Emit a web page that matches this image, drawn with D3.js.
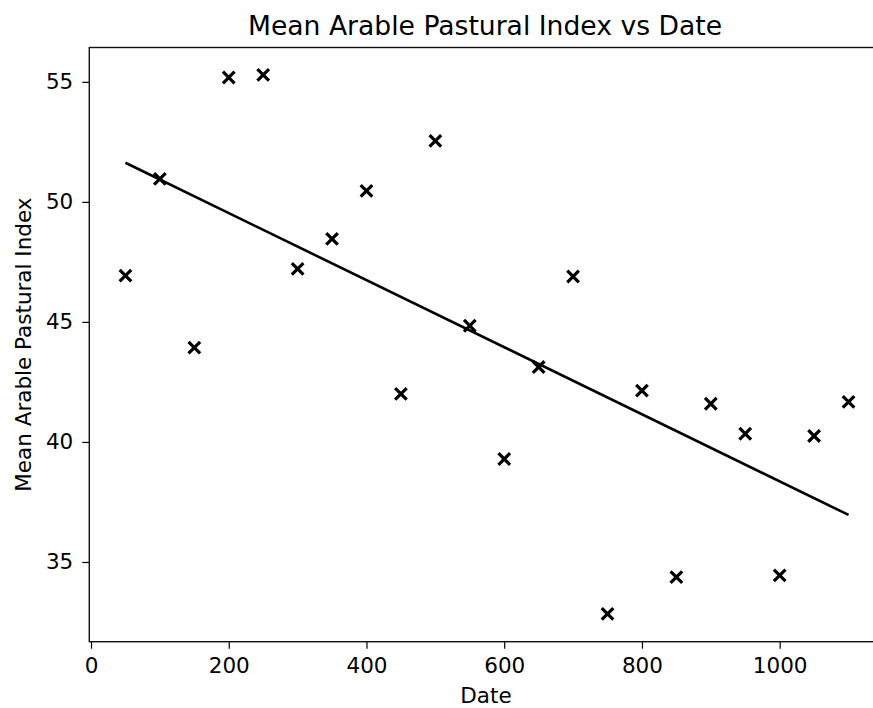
<!DOCTYPE html>
<html>
<head>
<meta charset="utf-8">
<script src="https://cdn.jsdelivr.net/npm/d3@7"></script>
<style>
  html, body { margin: 0; padding: 0; background: #fff; }
  svg { display: block; }
  text { font-family: "DejaVu Sans", sans-serif; fill: #000; }
</style>
</head>
<body>
<svg id="chart" width="873" height="708"></svg>
<script>
// ---- data ----
const dates = [50, 100, 150, 200, 250, 300, 350, 400, 450, 500, 550,
               600, 650, 700, 750, 800, 850, 900, 950, 1000, 1050, 1100];
const indexValues = [46.93, 50.96, 43.93, 55.18, 55.29, 47.21, 48.46, 50.46, 42.00, 52.54, 44.84,
                     39.29, 43.12, 46.89, 32.84, 42.14, 34.37, 41.59, 40.34, 34.44, 40.25, 41.67];
const fitDates = [50, 1100];
const fitValues = [51.63, 36.96];
const xTicks = [0, 200, 400, 600, 800, 1000];
const yTicks = [35, 40, 45, 50, 55];
const titleText = "Mean Arable Pastural Index vs Date";
const xLabel = "Date";
const yLabel = "Mean Arable Pastural Index";

// ---- layout ----
const svg = d3.select("#chart");
const mLeft = 89.3, mRight = 884.7, mTop = 47.5, mBottom = 641.7;

const x = d3.scaleLinear().domain([-2.5, 1152.5]).range([mLeft, mRight]);
const y = d3.scaleLinear().domain([31.68, 56.43]).range([mBottom, mTop]);

const fontTick = 21.5, fontTitle = 26.6;

// axes
const xAxis = d3.axisBottom(x).tickValues(xTicks).tickSize(7).tickPadding(9).tickFormat(d3.format("d"));
const yAxis = d3.axisLeft(y).tickValues(yTicks).tickSize(7).tickPadding(9).tickFormat(d3.format("d"));

const gx = svg.append("g").attr("transform", `translate(0,${mBottom})`).call(xAxis);
const gy = svg.append("g").attr("transform", `translate(${mLeft},0)`).call(yAxis);
[gx, gy].forEach(g => {
  g.select(".domain").remove();
  g.selectAll(".tick line").attr("stroke", "#000").attr("stroke-width", 1.2);
  g.selectAll(".tick text").attr("font-size", fontTick).attr("font-family", "DejaVu Sans").attr("fill", "#222");
});

// spines
svg.append("rect")
  .attr("x", mLeft).attr("y", mTop)
  .attr("width", mRight - mLeft).attr("height", mBottom - mTop)
  .attr("fill", "none").attr("stroke", "#111").attr("stroke-width", 1.4);

// fit line
const line = d3.line().x(d => x(d[0])).y(d => y(d[1]));
svg.append("path")
  .datum(fitDates.map((d, i) => [d, fitValues[i]]))
  .attr("d", line)
  .attr("fill", "none").attr("stroke", "#000").attr("stroke-width", 2.6);

// x markers
const ms = 5.8;
const pts = svg.append("g");
dates.forEach((d, i) => {
  const cx = x(d), cy = y(indexValues[i]);
  pts.append("path")
    .attr("d", `M${cx - ms},${cy - ms}L${cx + ms},${cy + ms}M${cx - ms},${cy + ms}L${cx + ms},${cy - ms}`)
    .attr("stroke", "#000").attr("stroke-width", 3.2).attr("fill", "none");
});

// title & labels
svg.append("text").attr("x", 485).attr("y", 35)
  .attr("text-anchor", "middle").attr("font-size", fontTitle).attr("fill", "#222").text(titleText);
svg.append("text").attr("x", 486).attr("y", 703)
  .attr("text-anchor", "middle").attr("font-size", fontTick).attr("fill", "#222").text(xLabel);
svg.append("text").attr("transform", `translate(31,${(mTop + mBottom) / 2}) rotate(-90)`)
  .attr("text-anchor", "middle").attr("font-size", fontTick).attr("fill", "#222").text(yLabel);
</script>
</body>
</html>
